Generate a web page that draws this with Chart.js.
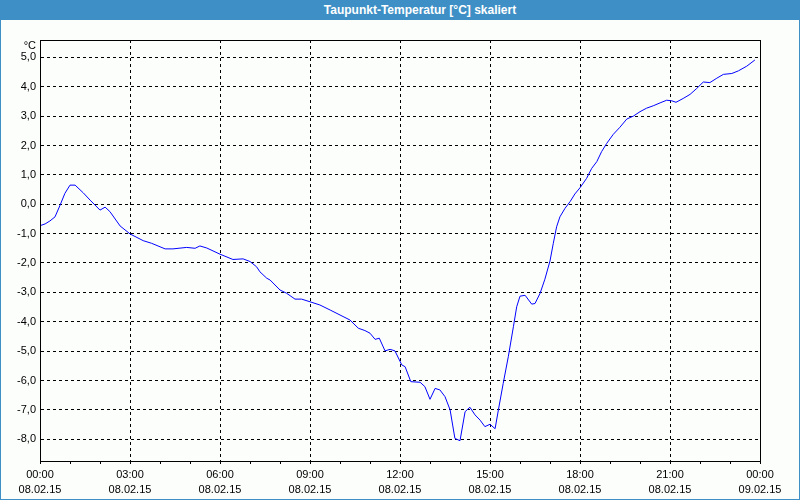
<!DOCTYPE html>
<html><head><meta charset="utf-8">
<script src="https://cdn.jsdelivr.net/npm/chart.js@4"></script>
<style>
html,body{margin:0;padding:0;background:#fcfefc;}
#wrap{position:relative;width:800px;height:500px;overflow:hidden;}
#title{position:absolute;left:0;top:0;width:800px;height:20px;background:#3d8fc5;color:#fff;font:bold 12px "Liberation Sans",Arial,sans-serif;line-height:20px;text-align:center;padding-left:40px;box-sizing:border-box;}
#frame{position:absolute;left:0;top:0;width:800px;height:500px;box-sizing:border-box;border:1px solid #3d8fc5;pointer-events:none;}
canvas{position:absolute;left:0;top:0;}
</style></head>
<body><div id="wrap"><canvas id="c" width="800" height="500"></canvas><div id="title">Taupunkt-Temperatur [°C] skaliert</div><div id="frame"></div></div>
<script>
const hours = [
 0,0.17,0.33,0.5,0.67,0.83,1,1.17,1.44,1.67,
 2,2.17,2.33,2.67,3,3.44,3.72,4.17,4.43,4.89,
 5.17,5.33,5.56,6,6.43,6.77,7,7.22,7.33,7.56,
 7.67,8,8.22,8.5,8.72,9,9.33,9.67,10,10.33,
 10.61,10.83,11,11.17,11.31,11.5,11.67,11.83,12.06,12.17,
 12.36,12.67,12.83,13,13.17,13.33,13.5,13.67,13.83,14,
 14.17,14.33,14.5,14.67,14.83,15,15.17,15.28,15.44,15.61,
 15.78,15.89,16,16.17,16.39,16.5,16.67,16.83,17,17.11,
 17.22,17.33,17.5,17.67,17.83,18,18.22,18.39,18.56,18.72,
 18.89,19.11,19.33,19.56,19.78,20,20.22,20.44,20.67,20.89,
 21.06,21.2,21.44,21.67,21.89,22.11,22.33,22.56,22.78,23.06,
 23.28,23.56,23.83
];
const dewPoint = [
 -0.73,-0.67,-0.57,-0.43,-0.03,0.37,0.65,0.65,0.39,0.14,
 -0.2,-0.1,-0.25,-0.74,-1.01,-1.24,-1.33,-1.52,-1.52,-1.47,
 -1.5,-1.42,-1.49,-1.7,-1.88,-1.86,-1.95,-2.13,-2.3,-2.52,
 -2.58,-2.92,-3.03,-3.23,-3.23,-3.32,-3.43,-3.6,-3.77,-3.94,
 -4.22,-4.3,-4.39,-4.6,-4.56,-4.99,-4.94,-4.99,-5.47,-5.53,
 -6.04,-6.06,-6.21,-6.64,-6.27,-6.32,-6.55,-7.0,-7.97,-8.05,
 -7.06,-6.91,-7.17,-7.35,-7.57,-7.49,-7.64,-7.0,-6.1,-5.19,
 -4.17,-3.49,-3.13,-3.1,-3.4,-3.38,-3.03,-2.55,-1.93,-1.33,
 -0.77,-0.43,-0.14,0.09,0.35,0.56,0.88,1.22,1.45,1.79,
 2.07,2.38,2.62,2.9,3.0,3.15,3.27,3.35,3.45,3.54,
 3.52,3.47,3.6,3.74,3.94,4.16,4.14,4.29,4.42,4.45,
 4.54,4.7,4.91
];
const timeLabels = ['00:00','03:00','06:00','09:00','12:00','15:00','18:00','21:00','00:00'];
const dateLabels = ['08.02.15','08.02.15','08.02.15','08.02.15','08.02.15','08.02.15','08.02.15','08.02.15','09.02.15'];
const unitLabel = '°C';

const FONT = {family:'"Liberation Sans", Arial, sans-serif', size:11, lineHeight:1.4};

const boxPlugin = {
  id:'box',
  afterDraw(chart){
    const {ctx, chartArea:a} = chart;
    ctx.save();
    ctx.strokeStyle = '#000'; ctx.lineWidth = 1; ctx.setLineDash([]);
    ctx.strokeRect(Math.round(a.left)+0.5, Math.round(a.top)+0.5, Math.round(a.right-a.left)-0, Math.round(a.bottom-a.top));
    ctx.fillStyle = '#000';
    ctx.font = '11px "Liberation Sans", Arial, sans-serif';
    ctx.textAlign = 'right'; ctx.textBaseline = 'middle';
    ctx.fillText(unitLabel, a.left - 4, a.top + 6);
    ctx.restore();
  }
};

new Chart(document.getElementById('c'), {
  type:'line',
  data:{datasets:[{
    data: hours.map((h,i)=>({x:h, y:dewPoint[i]})),
    borderColor:'#0000ff', borderWidth:1, pointRadius:0, tension:0, fill:false
  }]},
  options:{
    responsive:false, animation:false, devicePixelRatio:1,
    layout:{padding:{left:0, top:40, right:40, bottom:0}},
    plugins:{legend:{display:false}, tooltip:{enabled:false}, title:{display:false}},
    scales:{
      x:{
        type:'linear', min:0, max:24,
        afterFit(s){ s.height = 39; },
        grid:{
          color:(c)=> (c.tick && Math.round(c.tick.value)%3===0) ? '#000' : 'rgba(0,0,0,0)',
          tickColor:'#000', tickLength:3, lineWidth:1, drawTicks:true
        },
        border:{display:true, color:'#000', width:1, dash:[3,3]},
        ticks:{
          stepSize:1, autoSkip:false, maxRotation:0, color:'#000', padding:3, font:FONT,
          callback:(v)=>{ const r=Math.round(v); if(r%3!==0) return ''; const i=r/3; return [timeLabels[i], dateLabels[i]]; }
        }
      },
      y:{
        type:'linear', min:-8.74, max:5.59,
        afterFit(s){ s.width = 40; },
        grid:{color:'#000', lineWidth:1, drawTicks:false},
        border:{display:true, color:'#000', width:1, dash:[3,3]},
        ticks:{
          stepSize:1, includeBounds:false, color:'#000', padding:4, font:FONT,
          callback:(v)=> Number(v).toFixed(1).replace('.', ',')
        }
      }
    }
  },
  plugins:[boxPlugin]
});
</script>
</body></html>
